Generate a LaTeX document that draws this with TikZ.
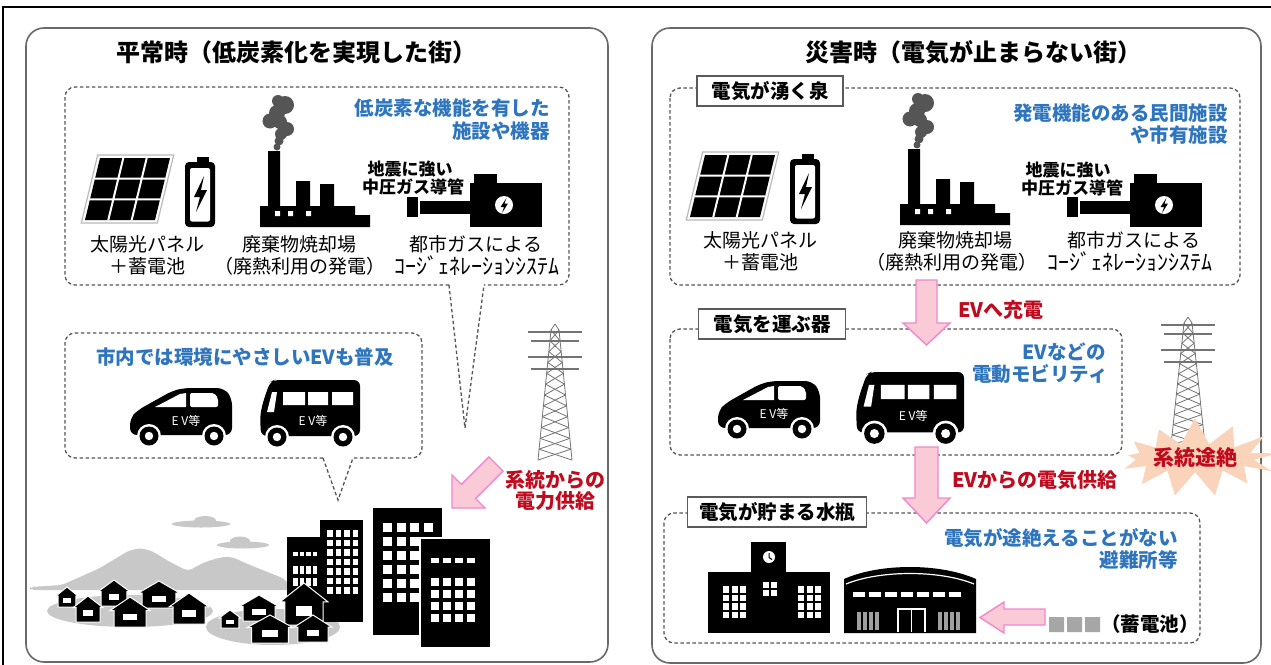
\documentclass[tikz,border=0pt]{standalone}
\usepackage{fontspec}
\setmainfont{Noto Sans CJK JP}
\usetikzlibrary{shapes.symbols}

\definecolor{jpblue}{RGB}{46,117,190}
\definecolor{jpred}{RGB}{192,10,30}
\definecolor{panelgray}{RGB}{105,105,105}
\definecolor{dashgray}{RGB}{85,85,85}
\definecolor{taggray}{RGB}{90,90,90}
\definecolor{pinkfill}{RGB}{250,202,214}
\definecolor{pinkline}{RGB}{240,135,205}
\definecolor{burstfill}{RGB}{250,212,186}
\definecolor{smokegray}{RGB}{85,85,85}
\definecolor{hillgray}{RGB}{200,200,200}
\definecolor{towergray}{RGB}{115,115,115}

\tikzset{
  panel/.style={draw=panelgray, line width=1.6pt, rounded corners=18pt},
  dashbox/.style={draw=dashgray, line width=1.3pt, dash pattern=on 3.5pt off 2.5pt, rounded corners=10pt},
  tailline/.style={draw=dashgray, line width=1.3pt, dash pattern=on 3.5pt off 2.5pt},
  ttl/.style={font=\bfseries\fontsize{24}{28}\selectfont, inner sep=0pt},
  lbl/.style={font=\fontsize{19}{22}\selectfont, inner sep=0pt},
  hwlbl/.style={font=\fontsize{22}{24}\selectfont, inner sep=0pt},
  quake/.style={font=\bfseries\fontsize{17}{19}\selectfont, inner sep=0pt},
  bluetxt/.style={text=jpblue, font=\bfseries\fontsize{19.5}{22}\selectfont, inner sep=0pt},
  redtxt/.style={text=jpred, font=\bfseries\fontsize{20}{23}\selectfont, inner sep=0pt},
  tagbox/.style={draw=taggray, fill=white, line width=1.4pt, font=\bfseries\fontsize{19.5}{22}\selectfont, minimum height=30pt, inner sep=0pt},
  pinkarrow/.style={fill=pinkfill, draw=pinkline, line width=1.4pt, line join=miter},
  evtxt/.style={text=white, font=\fontsize{12}{14}\selectfont, inner sep=0pt},
  evcar/.pic={
    \fill[rounded corners=7pt] (0,47) -- (0,30) -- (8,22) -- (42,3) -- (54,0) -- (94,0) -- (102,10) -- (102,47) -- cycle;
    \fill[white] (25,19) -- (50,6) -- (56,5) -- (56,19) -- cycle;
    \fill[white, rounded corners=2pt] (60,5) -- (84,5) -- (88,10) -- (88,19) -- (60,19) -- cycle;
    \foreach \wx in {19,84}{
      \fill[white] (\wx,48) circle (12);
      \fill (\wx,48) circle (9.5);
      \fill[white] (\wx,48) circle (4.2);
    }
    \node[evtxt] (-tag) at (56,33) {E V等};
  },
  evbus/.pic={
    \fill[rounded corners=6pt] (1,56) -- (0,36) -- (3,22) -- (10,2) -- (14,0) -- (100,0) -- (100,56) -- cycle;
    \fill[white] (7,32) -- (12,12) -- (17,12) -- (14,32) -- cycle;
    \fill[white] (23,12) rectangle (45,25) (48,12) rectangle (68,25) (72,12) rectangle (93,25);
    \foreach \wx in {17,83}{
      \fill[white] (\wx,57) circle (12);
      \fill (\wx,57) circle (9.5);
      \fill[white] (\wx,57) circle (4.2);
    }
    \node[evtxt] (-tag) at (53,41) {E V等};
  }
}

% solar panel and storage battery
\newcommand\solarbatt{%
  \draw[gray!55, line width=1.2pt] (97.7,155) -- (173.7,155) -- (157.3,223) -- (81.3,223) -- cycle;
  \fill (100,158) -- (170,158) -- (155,220) -- (85,220) -- cycle;
  \draw[white, line width=2pt] (123.3,158) -- (108.3,220) (146.7,158) -- (131.7,220)
        (95,178.7) -- (165,178.7) (90,199.3) -- (160,199.3);
  \fill[rounded corners=4pt] (185,162) rectangle (215,227);
  \fill[white, rounded corners=2pt] (190,168) rectangle (210,221.5);
  \fill (197,157) rectangle (209,163);
  \fill (204,176) -- (194,197) -- (200,197) -- (196,212) -- (207,190) -- (201,190) -- cycle;
}

% waste incineration plant with smoke
\newcommand\factory{%
  \fill[smokegray] (285,105) circle (9) (278,101) circle (6) (277,113) circle (8) (270,121) circle (7.5)
                   (280,122) circle (7) (287,129) circle (7) (281,134) circle (6)
                   (279,141) circle (4.5) (277,147) circle (3.5);
  \fill (260,227) -- (260,206) -- (268,206) -- (268,151) -- (280,151) -- (280,206) -- (296,206)
        -- (296,181) -- (310,181) -- (310,206) -- (320,206) -- (320,184) -- (334,184) -- (334,206)
        -- (355,206) -- (355,215) -- (370,215) -- (370,227) -- cycle;
  \fill[white] (275,211) rectangle +(5,5) (288,211) rectangle +(5,5) (306,211) rectangle +(5,5);
}

% gas cogeneration unit with pipe
\newcommand\cogen{%
  \fill (407,197) rectangle (418,217);
  \fill (420,201) rectangle (472,214);
  \fill (470,183) rectangle (542,227);
  \fill (474,174) rectangle (497,184);
  \fill[white] (504,205) circle (9);
  \fill (506.5,198) -- (500.5,207) -- (504,207) -- (502,213) -- (508,203.5) -- (504.5,203.5) -- cycle;
}

% lattice transmission tower: centre x, top y, bottom y
\newcommand\pylon[3]{%
  \begin{scope}[towergray, line width=0.8pt]
    \draw ({#1-4},#2) -- ({#1-17},#3);
    \draw ({#1+4},#2) -- ({#1+17},#3);
    \foreach \k in {0,...,11}{
      \pgfmathsetmacro\ya{#2+\k*(#3-#2)/12}
      \pgfmathsetmacro\yb{#2+(\k+1)*(#3-#2)/12}
      \pgfmathsetmacro\wa{4+13*\k/12}
      \pgfmathsetmacro\wb{4+13*(\k+1)/12}
      \draw ({#1-\wa},\ya) -- ({#1+\wb},\yb);
      \draw ({#1+\wa},\ya) -- ({#1-\wb},\yb);
    }
    \foreach \d/\w in {2/27,11/24,27/27,39/24}{
      \draw[line width=1.7pt] ({#1-\w},{#2+\d}) -- ({#1+\w},{#2+\d});
    }
    \draw (#1,{#2-6}) -- ({#1-4},#2) (#1,{#2-6}) -- ({#1+4},#2);
  \end{scope}}

% small house silhouette: x, top y, width, height
\newcommand\hut[4]{%
  \filldraw[black, draw=white, line width=1pt] ({#1},{#2+0.45*#4}) -- ({#1+0.5*#3},{#2}) -- ({#1+#3},{#2+0.45*#4})
    -- ({#1+0.9*#3},{#2+0.45*#4}) -- ({#1+0.9*#3},{#2+#4}) -- ({#1+0.1*#3},{#2+#4})
    -- ({#1+0.1*#3},{#2+0.45*#4}) -- cycle;
  \fill[white] ({#1+0.33*#3},{#2+0.55*#4}) rectangle ({#1+0.67*#3},{#2+0.78*#4});
}

\begin{document}
\begin{tikzpicture}[x=1pt,y=-1pt]
\useasboundingbox (0,0) rectangle (1271,664);
\fill[white] (0,0) rectangle (1271,664);
\draw[line width=2.5pt] (3,690) -- (3,7) -- (1300,7);

% ---------------- left panel: normal times ----------------
\draw[panel] (26,28) rectangle (608,662);
\node[ttl] (ltitle) at (296,52) {平常時（低炭素化を実現した街）};

\draw[dashbox] (449,285) -- (65,285) -- (65,87) -- (569,87) -- (569,285) -- (484,285);
\draw[tailline] (449,285) -- (465,428) -- (484,285);
\node[bluetxt, anchor=east] (lb1) at (550,108) {低炭素な機能を有した};
\node[bluetxt, anchor=east] (lb2) at (550,131) {施設や機器};

\solarbatt
\factory
\cogen
\node[quake] (lq1) at (410,169) {地震に強い};
\node[quake] (lq2) at (413,187) {中圧ガス導管};
\node[lbl] (l1a) at (147,244) {太陽光パネル};
\node[lbl] (l1b) at (147,266) {＋蓄電池};
\node[lbl] (l2a) at (299,244) {廃棄物焼却場};
\node[lbl] (l2b) at (300,266) {（廃熱利用の発電）};
\node[lbl] (l3a) at (476,244) {都市ガスによる};
\node[hwlbl] (l3b) at (477,266) {ｺｰｼﾞｪﾈﾚｰｼｮﾝｼｽﾃﾑ};

\draw[dashbox] (323,458) -- (65,458) -- (65,333) -- (422,333) -- (422,458) -- (353,458);
\draw[tailline] (323,458) -- (338,500) -- (353,458);
\node[bluetxt] (lev) at (245,357) {市内では環境にやさしいEVも普及};
\pic (lcar) at (130,388) {evcar};
\pic (lbus) at (260,380) {evbus};

\pylon{555}{330}{460}
\filldraw[pinkarrow] (503.1,471.1) -- (475.6,498.6) -- (485,508) -- (452,508) -- (452,475)
  -- (461.4,484.4) -- (488.9,456.9) -- cycle;
\node[redtxt] (lg1) at (555,480) {系統からの};
\node[redtxt] (lg2) at (555,501) {電力供給};

% town scene
\fill[hillgray, rounded corners=4pt] (30,590) -- (30,587) -- (62,585) -- (100,568) -- (128,551) -- (140,548)
  -- (152,551) -- (170,562) -- (188,571) -- (205,562) -- (222,557) -- (232,557) -- (250,565)
  -- (285,579) -- (292,590) -- cycle;
\fill[hillgray] (201,524) ellipse (29 and 3.5) (205,520.5) ellipse (11 and 4.5);
\fill[hillgray] (243,545) ellipse (26 and 3.5) (240,541) ellipse (10 and 4.5);
\fill[hillgray] (130,611) ellipse (83 and 16);
\fill[hillgray] (273,627) ellipse (67 and 18);

\fill (320,520) rectangle (363,622);
\fill (287,537) rectangle (321,622);
\foreach \c in {0,1,2,3}{
  \foreach \r in {0,...,6}{\fill[white] ({327+\c*8.5},{530+\r*9.5}) rectangle +(5.5,6.5);}
  \fill[white] ({293+\c*6.5},552) rectangle +(4.5,4);
  \fill[white] ({293+\c*6.5},566) rectangle +(4.5,8);
  \fill[white] ({293+\c*6.5},578) rectangle +(4.5,8);
}
\fill (373,508) rectangle (442,635);
\foreach \c in {0,1,2,3}{
  \foreach \r in {0,...,5}{\fill[white] ({383+\c*13.5},{523+\r*14}) rectangle +(9,9);}
}
\filldraw[draw=white, line width=1.2pt] (420,538) rectangle (491,648);
\foreach \c in {0,1,2,3}{
  \fill[white] ({431+\c*12},558) rectangle +(8,5);
  \foreach \r in {0,...,3}{\fill[white] ({431+\c*12},{578+\r*12}) rectangle +(8,7.5);}
}

\hut{98}{580}{32}{26}
\hut{138}{581}{42}{27}
\hut{56}{587}{22}{20}
\hut{73}{596}{30}{26}
\hut{110}{597}{40}{30}
\hut{169}{593}{40}{31}
\hut{219}{610}{22}{18}
\hut{280}{583}{48}{42}
\hut{239}{595}{40}{26}
\hut{247}{615}{46}{28}
\hut{294}{615}{38}{27}

% ---------------- right panel: disaster times ----------------
\draw[panel] (652,28) rectangle (1261,663);
\node[ttl] (rtitle) at (973,52) {災害時（電気が止まらない街）};

\draw[dashbox] (670,88) rectangle (1240,285);
\node[tagbox, minimum width=146pt] (tag1) at (770,91) {電気が湧く泉};
\node[bluetxt, anchor=east] (rb1) at (1228,113) {発電機能のある民間施設};
\node[bluetxt, anchor=east] (rb2) at (1228,135) {や市有施設};

\begin{scope}[shift={(605,-3)}] \solarbatt \end{scope}
\begin{scope}[shift={(640,-2)}] \factory \end{scope}
\begin{scope}[shift={(660,0)}] \cogen \end{scope}
\node[quake] (rq1) at (1068,170) {地震に強い};
\node[quake] (rq2) at (1072,188) {中圧ガス導管};
\node[lbl] (r1a) at (760,240) {太陽光パネル};
\node[lbl] (r1b) at (760,262) {＋蓄電池};
\node[lbl] (r2a) at (955,240) {廃棄物焼却場};
\node[lbl] (r2b) at (952,262) {（廃熱利用の発電）};
\node[lbl] (r3a) at (1134,240) {都市ガスによる};
\node[hwlbl] (r3b) at (1130,262) {ｺｰｼﾞｪﾈﾚｰｼｮﾝｼｽﾃﾑ};

\draw[dashbox] (670,329) rectangle (1122,455);
\node[tagbox, minimum width=147pt] (tag2) at (772,324) {電気を運ぶ器};
\node[bluetxt, anchor=east] (rm1) at (1106,352) {EVなどの};
\node[bluetxt, anchor=east] (rm2) at (1108,374) {電動モビリティ};
\pic (rcar) at (718,381) {evcar};
\pic[scale=1.08] (rbus) at (856,372) {evbus};

\pylon{1188}{323}{445}
\node[starburst, starburst points=13, starburst point height=26pt, random starburst=33,
      fill=burstfill, draw=none, minimum width=152pt, minimum height=68pt, inner sep=0pt,
      text=jpred, font=\bfseries\fontsize{21}{24}\selectfont] (cut) at (1195,458) {系統途絶};

\draw[dashbox] (664,513) rectangle (1200,643);
\node[tagbox, minimum width=179pt] (tag3) at (777,512) {電気が貯まる水瓶};
\node[bluetxt, anchor=east] (rs1) at (1178,538) {電気が途絶えることがない};
\node[bluetxt, anchor=east] (rs2) at (1178,560) {避難所等};

% school
\fill (708,572) rectangle (830,633);
\fill (751,542) rectangle (786,573);
\fill[white] (769,557) circle (6);
\draw[line width=1pt] (769,553) -- (769,557.5) -- (772,559.5);
\foreach \c in {0,1,2}{
  \foreach \r in {0,1,2,3}{
    \fill[white] ({723+\c*8.5},{586+\r*8.5}) rectangle +(6,6.5);
    \fill[white] ({798+\c*8.5},{586+\r*8.5}) rectangle +(6,6.5);
  }
}
\foreach \c in {0,1}{\foreach \r in {0,1}{\fill[white] ({763+\c*8},{582+\r*8}) rectangle +(6,6);}}

% gymnasium
\fill (844,633) -- (844,579) .. controls (880,563) and (940,563) .. (976,579) -- (976,633) -- cycle;
\draw[white, line width=1.2pt] (846,584) .. controls (880,570) and (940,570) .. (974,584);
\foreach \k in {0,...,6}{\fill[white] ({853+\k*16},592) rectangle +(12,5);}
\foreach \k in {0,...,3}{
  \fill[gray!75] ({857+\k*6},612) rectangle +(4,18);
  \fill[gray!75] ({938+\k*6},612) rectangle +(4,18);
}
\draw[white, line width=1.5pt] (898,632) -- (898,609) -- (925,609) -- (925,632) (911.5,609) -- (911.5,632);

% storage battery supply
\fill[gray!70] (1049,617) rectangle +(15,15) (1067,617) rectangle +(15,15) (1085,617) rectangle +(15,15);
\node[font=\bfseries\fontsize{19.5}{22}\selectfont, inner sep=0pt, anchor=west] (batt) at (1101,624) {（蓄電池）};
\filldraw[pinkarrow] (1045,609) -- (1045,625) -- (1004,625) -- (1004,633) -- (980,617.5) -- (1004,602) -- (1004,609) -- cycle;

% charging and supply arrows
\filldraw[pinkarrow] (916,280) -- (937,280) -- (937,323) -- (950,323) -- (926.5,345) -- (903,323) -- (916,323) -- cycle;
\node[redtxt, anchor=west] (rc1) at (958,310) {EVへ充電};
\filldraw[pinkarrow] (915,447) -- (938,447) -- (938,498) -- (950,498) -- (926.5,523) -- (903,498) -- (915,498) -- cycle;
\node[redtxt, anchor=west] (rc2) at (952,480) {EVからの電気供給};
\end{tikzpicture}
\end{document}
